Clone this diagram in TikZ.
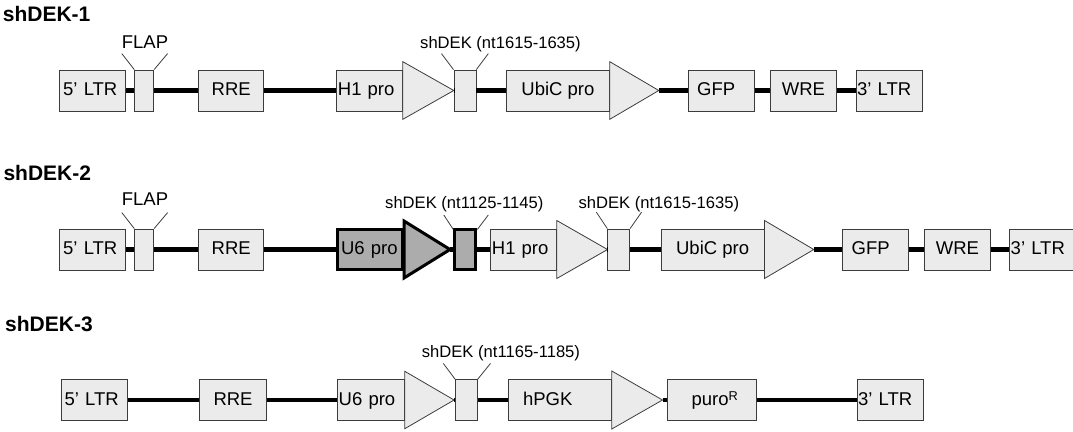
\documentclass[tikz,border=0pt]{standalone}
\usepackage{fontspec}
\setmainfont{Liberation Sans}
\definecolor{partfill}{RGB}{235,235,235}
\definecolor{partline}{RGB}{60,60,60}
\definecolor{knockfill}{RGB}{172,172,172}

\begin{document}
\begin{tikzpicture}[x=1pt,y=-1pt,
  part/.style={rectangle, draw=partline, fill=partfill, line width=0.8pt,
    minimum height=41pt, inner ysep=0pt, inner xsep=1.5pt, anchor=west,
    font=\fontsize{18.5}{18.5}\selectfont, text height=13.7pt, text depth=3.5pt},
  lefttext/.style={align=left, text width=#1},
  insert/.style={part, font=\fontsize{10}{10}\selectfont},
  knock/.style={part, draw=black, fill=knockfill, line width=3pt, minimum height=40pt},
  prom/.style={draw=partline, fill=partfill, line width=0.8pt},
  knockprom/.style={draw=black, fill=knockfill, line width=3pt},
  backbone/.style={draw=black, line width=4.2pt},
  tick/.style={draw=partline, line width=0.8pt},
  tag/.style={inner sep=0pt, font=\fontsize{18.5}{18.5}\selectfont},
  smalltag/.style={inner sep=0pt, anchor=base west, font=\fontsize{16.6}{16.6}\selectfont},
  title/.style={inner sep=0pt, anchor=base west, font=\fontsize{21}{21}\selectfont\bfseries},
]
\useasboundingbox (0,0) rectangle (1073,431);
\clip (0,0) rectangle (1073,431);

% ---------------- construct 1 ----------------
\node[title] (titleA) at (2.7,21) {shDEK-1};
\node[part, minimum width=66pt, inner xsep=3.5pt, lefttext=59pt] (ltrA) at (59.3,90.5) {5' LTR};
\node[insert, minimum width=19pt] (flapA) at (134.3,90.5) {};
\node[tag, anchor=base] (flapAt) at (145,48.3) {FLAP};
\node[part, minimum width=65pt] (rreA) at (198.3,90.5) {RRE};
\node[part, minimum width=66pt, lefttext=63pt] (hA) at (336,90.5) {H1 pro};
\draw[prom] ([yshift=28.8pt]hA.east) -- ([yshift=-28.8pt]hA.east)
  -- ([xshift=51pt]hA.east) coordinate (hAtip) -- cycle;
\node[insert, minimum width=22pt] (shA) at (453.5,90.5) {};
\node[smalltag] (shAt) at (420,48.3) {shDEK (nt1615-1635)};
\node[part, minimum width=103pt] (ubA) at (506,90.5) {UbiC pro};
\draw[prom] ([yshift=28.8pt]ubA.east) -- ([yshift=-28.8pt]ubA.east)
  -- ([xshift=49pt]ubA.east) coordinate (ubAtip) -- cycle;
\node[part, minimum width=66pt, inner xsep=9pt, lefttext=48pt] (gfpA) at (687.7,90.5) {GFP};
\node[part, minimum width=66pt] (wreA) at (770,90.5) {WRE};
\node[part, minimum width=66pt, inner xsep=1pt, lefttext=64pt] (ltrAr) at (855.7,90.5) {3' LTR};

\draw[tick] (flapA.north west) -- ++(-12.5,-16);
\draw[tick] (flapA.north east) -- ++(13.5,-16);
\draw[tick] (shA.north west) -- ++(-12,-16);
\draw[tick] (shA.north east) -- ++(12,-16);

\draw[backbone] (ltrA) -- (flapA);
\draw[backbone] (flapA) -- (rreA);
\draw[backbone] (rreA) -- (hA);
\draw[backbone] (hAtip) -- (shA.west);
\draw[backbone] (shA) -- (ubA);
\draw[backbone] (ubAtip) -- (gfpA.west);
\draw[backbone] (gfpA) -- (wreA);
\draw[backbone] (wreA) -- (ltrAr);

% ---------------- construct 2 ----------------
\node[title] (titleB) at (3.3,180) {shDEK-2};
\node[part, minimum width=66pt, inner xsep=3.5pt, lefttext=59pt] (ltrB) at (59.3,249.5) {5' LTR};
\node[insert, minimum width=19pt] (flapB) at (134.3,249.5) {};
\node[tag, anchor=base] (flapBt) at (145,205) {FLAP};
\node[part, minimum width=65pt] (rreB) at (198.3,249.5) {RRE};
\node[knock, minimum width=65pt, inner xsep=3.5pt, lefttext=58pt] (uB) at (336,249.5) {U6 pro};
\draw[knockprom] ([yshift=28.5pt]uB.east) -- ([yshift=-28.5pt]uB.east)
  -- ([xshift=46pt]uB.east) coordinate (uBtip) -- cycle;
\node[knock, minimum width=21pt, font=\fontsize{10}{10}\selectfont] (shB) at (453.3,249.5) {};
\node[smalltag] (shBt) at (385,208.3) {shDEK (nt1125-1145)};
\node[part, minimum width=66pt, lefttext=63pt] (hB) at (490,249.5) {H1 pro};
\draw[prom] ([yshift=29pt]hB.east) -- ([yshift=-29pt]hB.east)
  -- ([xshift=50.7pt]hB.east) coordinate (hBtip) -- cycle;
\node[insert, minimum width=22pt] (shBb) at (607.3,249.5) {};
\node[smalltag] (shBbt) at (578.3,208.3) {shDEK (nt1615-1635)};
\node[part, minimum width=103pt] (ubB) at (660.7,249.5) {UbiC pro};
\draw[prom] ([yshift=29pt]ubB.east) -- ([yshift=-29pt]ubB.east)
  -- ([xshift=49.3pt]ubB.east) coordinate (ubBtip) -- cycle;
\node[part, minimum width=66pt, inner xsep=9.5pt, lefttext=47pt] (gfpB) at (841.7,249.5) {GFP};
\node[part, minimum width=66pt] (wreB) at (924,249.5) {WRE};
\node[part, minimum width=66pt, inner xsep=1pt, lefttext=64pt] (ltrBr) at (1009.3,249.5) {3' LTR};

\draw[tick] (flapB.north west) -- ++(-12.5,-16);
\draw[tick] (flapB.north east) -- ++(13.5,-16);
\draw[tick] ([yshift=-1.5pt]shB.north west) -- ++(-9.5,-14.5);
\draw[tick] ([yshift=-1.5pt]shB.north east) -- ++(11,-14.5);
\draw[tick] (shBb.north west) -- ++(-11,-16.5);
\draw[tick] (shBb.north east) -- ++(11.5,-16.5);

\draw[backbone] (ltrB) -- (flapB);
\draw[backbone] (flapB) -- (rreB);
\draw[backbone] (rreB) -- (uB);
\draw[backbone] (uBtip) -- (shB.west);
\draw[backbone] (shB) -- (hB);
\draw[backbone] (hBtip) -- (shBb.west);
\draw[backbone] (shBb) -- (ubB);
\draw[backbone] (ubBtip) -- (gfpB.west);
\draw[backbone] (gfpB) -- (wreB);
\draw[backbone] (wreB) -- (ltrBr);

% ---------------- construct 3 ----------------
\node[title] (titleC) at (5,331.7) {shDEK-3};
\node[part, minimum width=66.6pt, inner xsep=3.5pt, lefttext=59.6pt] (ltrC) at (60.7,400) {5' LTR};
\node[part, minimum width=66.7pt] (rreC) at (199.3,400) {RRE};
\node[part, minimum width=66.7pt, inner xsep=1pt, lefttext=64.7pt] (uC) at (337.3,400) {U6 pro};
\draw[prom] ([yshift=28.7pt]uC.east) -- ([yshift=-28.7pt]uC.east)
  -- ([xshift=49.3pt]uC.east) coordinate (uCtip) -- cycle;
\node[insert, minimum width=22pt] (shC) at (455,400) {};
\node[smalltag] (shCt) at (421.7,357.7) {shDEK (nt1165-1185)};
\node[part, minimum width=103.3pt, inner xsep=15pt, lefttext=73.3pt] (pgk) at (507.7,400) {hPGK};
\draw[prom] ([yshift=29pt]pgk.east) -- ([yshift=-29pt]pgk.east)
  -- ([xshift=50.7pt]pgk.east) coordinate (pgktip) -- cycle;
\node[part, minimum width=89pt, inner xsep=24.5pt, lefttext=40pt] (puro) at (666.7,400)
  {puro\raisebox{4.5pt}{\fontsize{12.8}{12.8}\selectfont R}};
\node[part, minimum width=66.6pt, inner xsep=1pt, lefttext=64.6pt] (ltrCr) at (856.7,400) {3' LTR};

\draw[tick] (shC.north west) -- ++(-11.7,-15.7);
\draw[tick] (shC.north east) -- ++(12.7,-15.7);

\draw[backbone] (ltrC) -- (rreC);
\draw[backbone] (rreC) -- (uC);
\draw[backbone] (uCtip) -- (shC.west);
\draw[backbone] (shC) -- (pgk);
\draw[backbone] (pgktip) -- (puro.west);
\draw[backbone] (puro) -- (ltrCr);
\end{tikzpicture}
\end{document}
